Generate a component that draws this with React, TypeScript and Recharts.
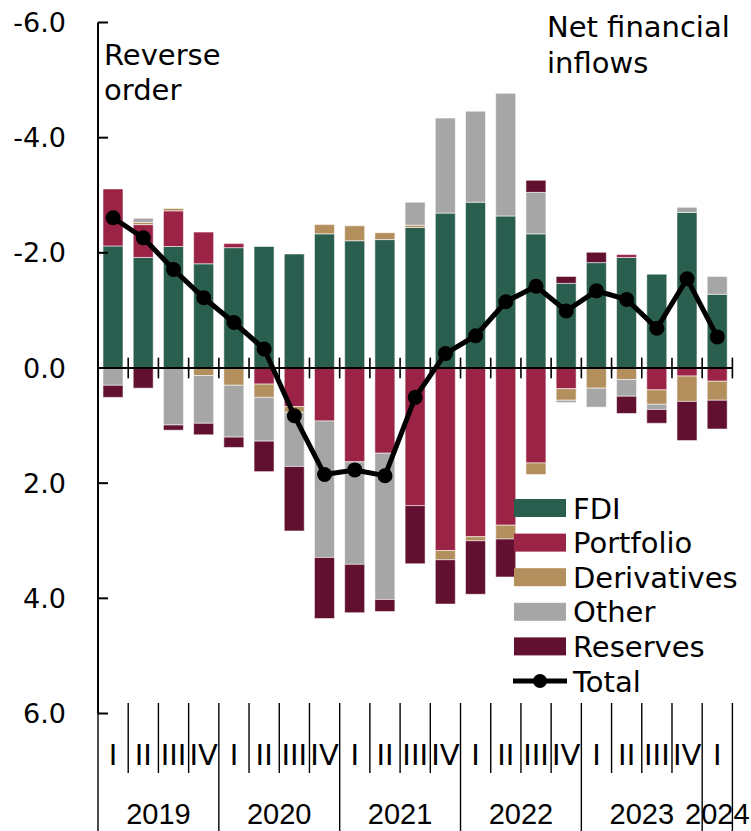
import React from 'react';
import { ComposedChart, Bar, Line, XAxis, YAxis, ReferenceLine, Legend } from 'recharts';

const YEARS = [2019, 2019, 2019, 2019, 2020, 2020, 2020, 2020, 2021, 2021, 2021, 2021, 2022, 2022, 2022, 2022, 2023, 2023, 2023, 2023, 2024];
const QUARTERS = ['I', 'II', 'III', 'IV', 'I', 'II', 'III', 'IV', 'I', 'II', 'III', 'IV', 'I', 'II', 'III', 'IV', 'I', 'II', 'III', 'IV', 'I'];

const FDI = [-2.12, -1.92, -2.11, -1.81, -2.09, -2.11, -1.98, -2.33, -2.21, -2.23, -2.44, -2.69, -2.88, -2.64, -2.33, -1.47, -1.83, -1.92, -1.63, -2.7, -1.28];
const PORTFOLIO = [-0.99, -0.57, -0.62, -0.55, -0.07, 0.28, 0.67, 0.92, 1.63, 1.48, 2.39, 3.17, 2.93, 2.73, 1.65, 0.36, 0, -0.05, 0.38, 0.14, 0.23];
const DERIVATIVES = [0, -0.04, -0.04, 0.13, 0.3, 0.23, 0.1, -0.16, -0.26, -0.12, -0.04, 0.16, 0.07, 0.24, 0.2, 0.2, 0.35, 0.2, 0.25, 0.44, 0.33];
const OTHER = [0.3, -0.07, 0.99, 0.83, 0.9, 0.76, 0.94, 2.37, 1.78, 2.54, -0.4, -1.65, -1.58, -2.13, -0.72, 0.04, 0.33, 0.29, 0.09, -0.09, -0.31];
const RESERVES = [0.21, 0.35, 0.09, 0.2, 0.18, 0.53, 1.12, 1.06, 0.84, 0.21, 1.01, 0.77, 0.93, 0.66, -0.21, -0.12, -0.18, 0.3, 0.24, 0.68, 0.5];
const TOTAL = [-2.61, -2.26, -1.71, -1.22, -0.79, -0.33, 0.83, 1.85, 1.77, 1.87, 0.51, -0.25, -0.56, -1.15, -1.42, -0.99, -1.34, -1.19, -0.69, -1.55, -0.54];

const Y_TICKS = [-6, -4, -2, 0, 2, 4, 6];

const SERIES = [
  { key: 'fdi', name: 'FDI', color: '#2A5E4E' },
  { key: 'portfolio', name: 'Portfolio', color: '#9B2346' },
  { key: 'derivatives', name: 'Derivatives', color: '#B38F5D' },
  { key: 'other', name: 'Other', color: '#A6A6A6' },
  { key: 'reserves', name: 'Reserves', color: '#621030' },
];
const TOTAL_NAME = 'Total';

const KEYS = QUARTERS.map((q, i) => `${YEARS[i]}-${q}`);

const data = KEYS.map((k, i) => ({
  key: k,
  idx: i + 0.5,
  fdi: FDI[i],
  portfolio: PORTFOLIO[i],
  derivatives: DERIVATIVES[i],
  other: OTHER[i],
  reserves: RESERVES[i],
  total: TOTAL[i],
}));

const BOUNDARIES = Array.from({ length: KEYS.length + 1 }, (_, i) => i);

const FONT = '"DejaVu Sans", sans-serif';
const W = 751;
const H = 831;
const M = { top: 22.5, right: 18.6, left: 0, bottom: 0 };
const Y_WIDTH = 98;

const YTick = (props: any) => {
  const { x, y, payload } = props;
  return (
    <g>
      <line x1={x} x2={x + 10} y1={y} y2={y} stroke="#000" strokeWidth={2} />
      <text x={x - 32} y={y} dy={9.6} textAnchor="end" fontSize={27} fontFamily={FONT} fill="#000">
        {Number(payload.value).toFixed(1)}
      </text>
    </g>
  );
};

const XTick = (props: any) => {
  const { x, y, payload } = props;
  const i = KEYS.indexOf(payload.value);
  if (i < 0) return null;
  const half = payload.offset && payload.offset > 0 ? payload.offset : (W - M.right - Y_WIDTH) / KEYS.length / 2;
  const left = x - half;
  const right = x + half;
  const yearStart = i === 0 || YEARS[i] !== YEARS[i - 1];
  const last = i === KEYS.length - 1;
  const count = YEARS.filter((v) => v === YEARS[i]).length;
  return (
    <g>
      <line x1={left} x2={left} y1={y - 10.5} y2={yearStart ? y + 118 : y + 59.5} stroke="#000" strokeWidth={1.4} />
      {last && <line x1={right} x2={right} y1={y - 10.5} y2={y + 118} stroke="#000" strokeWidth={1.4} />}
      <text x={x} y={y + 51} textAnchor="middle" fontSize={29} fontFamily={FONT} fill="#000">
        {QUARTERS[i]}
      </text>
      {yearStart && (
        <text x={left + count * half} y={y + 110} textAnchor="middle" fontSize={29} fontFamily='"Liberation Sans", sans-serif' fill="#000">
          {YEARS[i]}
        </text>
      )}
    </g>
  );
};

const renderLegend = () => {
  const step = 34.6;
  const y0 = 18;
  return (
    <svg width={246} height={210} style={{ display: 'block' }}>
      {SERIES.map((s, i) => (
        <g key={s.key}>
          <rect x={9} y={y0 + i * step - 9} width={52} height={18} fill={s.color} />
          <text x={68} y={y0 + i * step + 10.5} fontSize={29} fontFamily={FONT} fill="#000">
            {s.name}
          </text>
        </g>
      ))}
      <line x1={8} x2={62} y1={y0 + 5 * step} y2={y0 + 5 * step} stroke="#000" strokeWidth={5} />
      <circle cx={35} cy={y0 + 5 * step} r={7} fill="#000" />
      <text x={68} y={y0 + 5 * step + 10.5} fontSize={29} fontFamily={FONT} fill="#000">
        {TOTAL_NAME}
      </text>
    </svg>
  );
};

export default function App() {
  return (
    <div style={{ position: 'absolute', left: 0, top: 0, width: W, height: H, background: '#fff' }}>
      <ComposedChart width={W} height={H} data={data} margin={M} stackOffset="sign" barGap={0}>
        <XAxis
          dataKey="key"
          type="category"
          height={H - 713.5}
          axisLine={false}
          tickLine={false}
          tickSize={0}
          tickMargin={0}
          interval={0}
          tick={<XTick />}
        />
        <XAxis xAxisId="num" dataKey="idx" type="number" domain={[0, KEYS.length]} hide allowDataOverflow />
        <YAxis
          reversed
          domain={[-6, 6]}
          ticks={Y_TICKS}
          width={Y_WIDTH}
          axisLine={{ stroke: '#000', strokeWidth: 2 }}
          tickLine={false}
          tickSize={0}
          tickMargin={0}
          interval={0}
          allowDataOverflow
          tick={<YTick />}
        />
        {SERIES.map((s) => (
          <Bar
            key={s.key}
            dataKey={s.key}
            name={s.name}
            stackId="a"
            fill={s.color}
            stroke="#ffffff"
            strokeOpacity={0.55}
            strokeWidth={1}
            barSize={20}
            isAnimationActive={false}
          />
        ))}
        <ReferenceLine y={0} stroke="#000" strokeWidth={2} />
        {BOUNDARIES.map((b) => (
          <ReferenceLine
            key={b}
            xAxisId="num"
            segment={[{ x: b, y: -0.18 }, { x: b, y: 0.18 }]}
            stroke="#000"
            strokeWidth={1.6}
          />
        ))}
        <Line
          dataKey="total"
          name={TOTAL_NAME}
          stroke="#000"
          strokeWidth={5}
          dot={{ r: 7.5, fill: '#000', stroke: '#000', strokeWidth: 0 }}
          activeDot={false}
          isAnimationActive={false}
        />
        <Legend
          layout="vertical"
          align="center"
          verticalAlign="middle"
          content={renderLegend}
          wrapperStyle={{ left: 505, top: 490, width: 246, height: 210 }}
        />
        <text x={104} y={65} fontSize={29} fontFamily={FONT} fill="#000">Reverse</text>
        <text x={104} y={100} fontSize={29} fontFamily={FONT} fill="#000">order</text>
        <text x={547} y={37} fontSize={29} fontFamily={FONT} fill="#000">Net financial</text>
        <text x={547} y={73} fontSize={29} fontFamily={FONT} fill="#000">inflows</text>
      </ComposedChart>
    </div>
  );
}
